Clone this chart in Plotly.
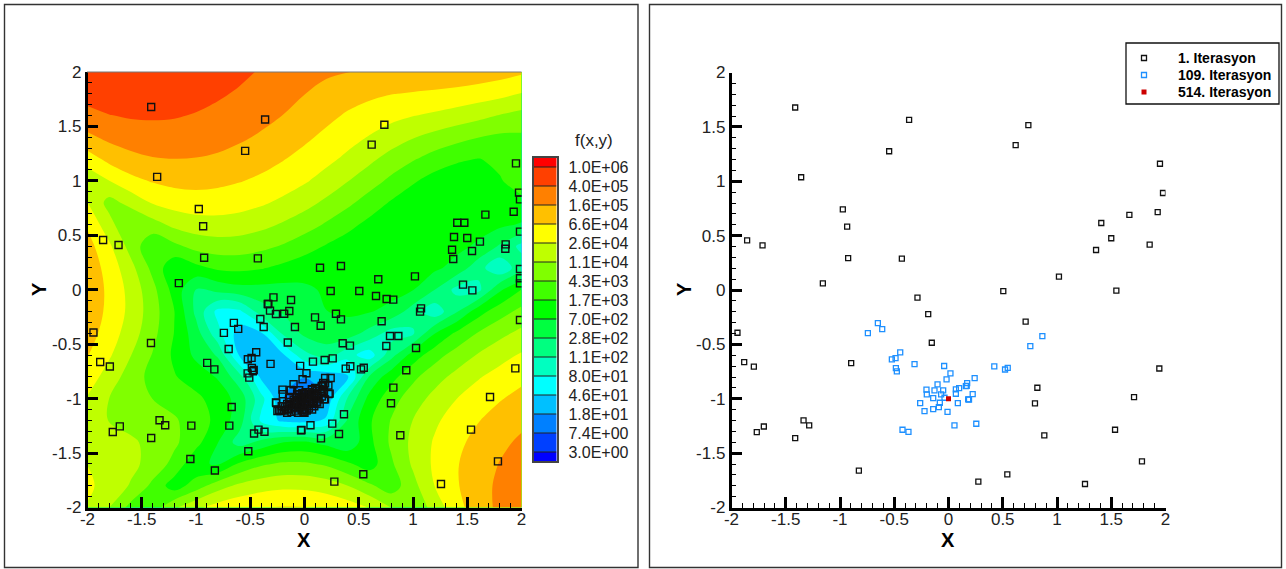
import numpy as np
import plotly.graph_objects as go

W, H = 1286, 569

x_grid = [-2.0,-1.8,-1.6,-1.4,-1.2,-1.0,-0.8,-0.6,-0.4,-0.2,0.0,0.2,0.4,0.6,0.8,1.0,1.2,1.4,1.6,1.8,2.0]
y_grid = [2.0,1.8,1.6,1.4,1.2,1.0,0.8,0.6,0.4,0.2,0.0,-0.2,-0.4,-0.6,-0.8,-1.0,-1.2,-1.4,-1.6,-1.8,-2.0]

# log10 f(x,y), one row per y_grid entry, read against the colour bar
log10_f = [
 [5.98,6.01,6.00,5.97,5.92,5.86,5.77,5.68,5.57,5.46,5.35,5.26,5.21,5.16,5.15,5.13,5.12,5.09,5.05,4.98,4.88],
 [5.76,5.82,5.84,5.82,5.79,5.73,5.65,5.56,5.45,5.33,5.21,5.09,4.98,4.90,4.83,4.79,4.75,4.70,4.62,4.53,4.40],
 [5.48,5.59,5.64,5.65,5.63,5.58,5.51,5.42,5.31,5.20,5.06,4.92,4.77,4.64,4.53,4.43,4.35,4.25,4.15,4.02,3.91],
 [5.12,5.30,5.40,5.43,5.44,5.40,5.34,5.26,5.16,5.03,4.89,4.73,4.56,4.39,4.22,4.06,3.91,3.77,3.64,3.55,3.56],
 [4.62,4.93,5.09,5.18,5.20,5.19,5.15,5.07,4.97,4.84,4.69,4.52,4.33,4.12,3.89,3.67,3.46,3.29,3.22,3.29,3.44],
 [4.13,4.41,4.70,4.85,4.93,4.94,4.91,4.84,4.74,4.61,4.46,4.27,4.05,3.81,3.54,3.28,3.07,3.00,3.07,3.21,3.35],
 [4.42,3.90,4.16,4.45,4.58,4.64,4.62,4.57,4.47,4.34,4.17,3.96,3.72,3.45,3.19,2.99,2.93,2.96,3.05,3.12,3.17],
 [4.76,4.17,3.64,3.88,4.14,4.25,4.28,4.24,4.15,4.00,3.82,3.59,3.35,3.12,2.99,2.97,2.98,2.99,2.98,2.93,2.81],
 [4.97,4.49,3.88,3.32,3.54,3.77,3.85,3.84,3.74,3.60,3.40,3.20,3.04,3.00,3.01,3.04,3.02,2.94,2.79,2.40,2.00],
 [5.07,4.66,4.16,3.52,2.94,3.12,3.30,3.33,3.26,3.13,3.00,2.94,2.98,3.03,3.06,3.03,2.92,2.71,2.20,1.93,2.30],
 [5.10,4.73,4.29,3.76,3.08,2.44,2.57,2.70,2.71,2.71,2.78,2.89,2.99,3.03,2.99,2.86,2.45,2.00,2.00,2.78,3.24],
 [5.07,4.72,4.31,3.82,3.24,2.35,1.83,1.85,2.24,2.49,2.70,2.84,2.91,2.87,2.72,2.25,1.95,2.40,3.07,3.46,3.75],
 [4.99,4.63,4.22,3.76,3.22,2.62,1.95,1.48,1.62,2.10,2.54,2.66,2.64,2.30,1.98,2.02,2.83,3.31,3.66,3.93,4.14],
 [4.84,4.47,4.05,3.61,3.16,2.76,2.40,1.62,1.54,1.60,2.00,2.23,1.95,1.78,2.30,3.02,3.47,3.80,4.07,4.28,4.46],
 [4.64,4.24,3.85,3.50,3.26,3.05,2.81,2.20,1.58,1.34,1.30,1.38,1.60,2.50,3.09,3.54,3.88,4.15,4.38,4.57,4.72],
 [4.38,4.04,3.78,3.63,3.49,3.32,3.07,2.69,1.95,1.30,0.48,1.36,2.10,2.98,3.47,3.85,4.16,4.41,4.62,4.79,4.94],
 [4.19,4.03,3.93,3.83,3.68,3.45,3.12,2.63,1.85,1.57,1.50,1.70,2.51,3.18,3.66,4.05,4.35,4.60,4.80,4.98,5.12],
 [4.26,4.18,4.09,3.95,3.71,3.37,2.85,2.26,2.55,2.84,2.89,2.71,2.55,3.13,3.71,4.13,4.46,4.72,4.94,5.12,5.27],
 [4.41,4.31,4.14,3.89,3.51,2.92,2.80,3.29,3.57,3.70,3.70,3.57,3.29,3.05,3.57,4.10,4.49,4.79,5.02,5.22,5.38],
 [4.48,4.29,4.00,3.54,3.03,3.43,3.86,4.12,4.26,4.33,4.32,4.23,4.04,3.70,3.42,3.91,4.42,4.78,5.06,5.28,5.46],
 [4.39,4.04,3.50,3.43,3.98,4.34,4.58,4.72,4.80,4.84,4.83,4.76,4.62,4.40,4.03,3.72,4.19,4.68,5.03,5.29,5.50],
]

level_values = [3.0,7.4,18,46,80,110,280,700,1700,4300,11000,26000,66000,160000,400000,1000000]
level_labels = ["3.0E+00","7.4E+00","1.8E+01","4.6E+01","8.0E+01","1.1E+02","2.8E+02","7.0E+02",
                "1.7E+03","4.3E+03","1.1E+04","2.6E+04","6.6E+04","1.6E+05","4.0E+05","1.0E+06"]
band_colors = ["#0000ff","#0040ff","#0080ff","#00c0ff","#00ffff","#00ffc0","#00ff80","#00ff40","#00ff00",
               "#40ff00","#80ff00","#bfff00","#ffff00","#ffc000","#ff8000","#ff4000","#ff0000"]

tick_vals = [-2,-1.5,-1,-0.5,0,0.5,1,1.5,2]
tick_text = ["-2","-1.5","-1","-0.5","0","0.5","1","1.5","2"]

legend_names = ["1. Iterasyon", "109. Iterasyon", "514. Iterasyon"]

iter1_x = [-1.413,-0.363,-0.547,-1.358,-0.974,-0.934,-1.856,-1.714,-0.925,-0.43,-1.158,-0.286,0.736,0.619,1.949,1.977,1.928,1.667,1.408,1.5,1.854,1.36,1.018,0.505,1.547,-0.187,-0.154,-1.945,-1.883,-1.794,-0.897,-1.336,-1.284,-1.702,-1.767,-1.413,-0.826,0.711,0.819,0.797,0.883,1.943,1.71,1.535,1.783,0.542,0.275,1.258]
iter1_y = [1.678,1.564,1.276,1.037,0.742,0.583,0.457,0.411,0.294,0.288,0.061,-0.07,1.516,1.333,1.161,0.892,0.717,0.69,0.616,0.476,0.417,0.368,0.123,-0.011,-0.006,-0.221,-0.485,-0.393,-0.663,-0.705,-0.672,-1.199,-1.245,-1.255,-1.307,-1.362,-1.66,-0.29,-0.899,-1.043,-1.337,-0.722,-0.985,-1.285,-1.576,-1.695,-1.762,-1.784]

iter109_x = [-0.651,-0.611,-0.743,-0.445,-0.488,-0.522,-0.313,-0.485,-0.476,-0.04,0.018,-0.018,-0.101,-0.203,-0.2,-0.129,-0.049,-0.068,-0.141,-0.037,0.068,0.068,0.098,0.16,0.172,0.181,-0.261,-0.08,-0.089,-0.141,-0.221,-0.009,0.086,0.055,-0.424,-0.369,0.865,0.754,0.422,0.546,0.521,0.241,0.168,0.223,0.189,0.256]
iter109_y = [-0.304,-0.359,-0.396,-0.574,-0.626,-0.638,-0.681,-0.718,-0.748,-0.699,-0.767,-0.822,-0.868,-0.917,-0.96,-0.923,-0.923,-0.96,-0.994,-0.991,-0.914,-0.954,-0.902,-0.883,-0.856,-1.006,-1.04,-1.037,-1.077,-1.095,-1.113,-1.12,-1.04,-1.245,-1.285,-1.304,-0.425,-0.517,-0.703,-0.716,-0.731,-0.81,-0.881,-0.957,-1.007,-1.23]

iter514_x = [0.0]
iter514_y = [-1.0]

other_x = [1.986,1.473,1.986,1.378,1.617,1.851,1.544,1.371,0.143,0.336,0.68,1.986,1.986,1.986,0.241,0.659,0.757,0.818,1.461,1.074,1.065,0.097,0.149,0.29,0.336,0.788,1.028,0.352,0.419,1.986,0.078,0.186,0.26,0.38,0.938,0.364,0.318,0.152,-0.028,0.232,-1.415,-0.831,-0.088,-0.407,-0.376,-0.339,-0.318,-0.263,-0.14,-0.699,-0.468,-0.524,-0.509,-0.263,-0.25,-0.671,-0.693,-1.043,-1.052,-0.518,-0.465,-0.032,-0.124,-0.333,-0.235,-0.205,0.19,0.174,0.118,0.02,-0.026,-0.127,
 -0.18,-0.16,-0.15,-0.14,-0.13,-0.12,-0.11,-0.1,-0.1,-0.09,-0.08,-0.08,-0.07,-0.06,-0.05,-0.05,-0.04,-0.03,-0.03,-0.02,-0.02,-0.01,-0.01,0.0,0.0,0.01,0.01,0.02,0.02,0.03,0.04,0.04,0.05,0.05,0.06,0.07,0.07,0.08,0.09,0.09,0.1,0.11,0.11,0.12,0.13,0.14,0.15,0.16,0.16,0.18,-0.21,-0.19,-0.16,-0.12,-0.06,0.0,0.07,0.14,0.19,0.22]
other_y = [0.83,0.616,0.534,0.484,0.442,0.376,0.356,0.282,0.202,0.218,0.096,0.19,0.105,0.059,-0.011,-0.057,-0.085,-0.091,0.047,-0.171,-0.201,-0.254,-0.33,-0.22,-0.272,-0.425,-0.535,-0.492,-0.513,-0.278,-0.66,-0.645,-0.63,-0.724,-0.74,-1.144,-1.325,-1.365,-1.288,-0.954,-0.489,-0.731,-0.342,-0.269,-0.342,-0.131,-0.192,-0.223,-0.195,-0.544,-0.737,-0.768,-0.807,-1.034,-1.113,-1.077,-1.248,-1.248,-1.554,-1.484,-1.321,-1.291,-0.094,-0.131,-1.105,-1.105,-0.81,-0.875,-1.037,-1.11,-1.105,-0.92,
 -1.08,-1.05,-1.1,-1.07,-1.03,-1.09,-1.05,-1.01,-1.08,-1.04,-1.11,-0.99,-1.06,-1.02,-1.09,-0.97,-1.04,-1.0,-1.07,-0.95,-1.03,-0.98,-1.1,-1.05,-0.96,-1.02,-0.94,-1.07,-0.99,-0.96,-1.03,-1.09,-0.94,-1.0,-1.05,-0.97,-0.92,-1.02,-0.95,-1.07,-0.99,-0.93,-1.03,-0.96,-1.0,-0.91,-0.95,-0.98,-0.89,-0.93,-1.07,-1.11,-1.13,-1.12,-1.13,-1.13,-1.1,-1.05,-0.86,-0.88]

FONT = "Liberation Sans, Arial, sans-serif"


def px(v):
    return v / W


def py(v):
    return 1 - v / H


n = len(level_values)
level_pos = np.interp(np.array(log10_f), np.log10(level_values), np.arange(n))
scale = [[k / (len(band_colors) - 1), c] for k, c in enumerate(band_colors)]

fig = go.Figure()
fig.add_trace(go.Contour(
    x=x_grid, y=y_grid, z=level_pos, xaxis="x", yaxis="y",
    colorscale=scale, showscale=False,
    contours=dict(start=0, end=n - 1, size=1, coloring="fill", showlines=False),
    line=dict(width=0, smoothing=1.0), hoverinfo="skip",
))

left_x = iter1_x + iter109_x + other_x + iter514_x
left_y = iter1_y + iter109_y + other_y + iter514_y
fig.add_trace(go.Scatter(
    x=left_x, y=left_y, mode="markers", xaxis="x", yaxis="y", showlegend=False,
    marker=dict(symbol="square-open", size=7, color="#111111", line=dict(width=1.4, color="#111111")),
))

black_mk = dict(symbol="square-open", size=5, color="#111111", line=dict(width=1.3, color="#111111"))
blue_mk = dict(symbol="square-open", size=5, color="#1e90ff", line=dict(width=1.3, color="#1e90ff"))
red_mk = dict(symbol="square", size=5, color="#cc0000", line=dict(width=0))

for xs, ys, name, mk in [(iter1_x, iter1_y, legend_names[0], black_mk),
                         (iter109_x, iter109_y, legend_names[1], blue_mk),
                         (iter514_x, iter514_y, legend_names[2], red_mk)]:
    fig.add_trace(go.Scatter(x=xs, y=ys, mode="markers", xaxis="x2", yaxis="y2",
                             name=name, marker=mk, showlegend=False))

# legend keys, on an invisible axis laid over the legend box
legend_rows = [0, 1, 2]
for row, name, mk in zip(legend_rows, legend_names, [black_mk, blue_mk, red_mk]):
    fig.add_trace(go.Scatter(x=[0], y=[row], mode="markers", xaxis="x4", yaxis="y4",
                             name=name, marker=mk, showlegend=False, hoverinfo="skip"))

# colour bar, one cell per band
bar_edges = [-0.475] + list(range(n)) + [n - 1 + 0.475]
fig.add_trace(go.Heatmap(
    x=[0, 1], y=bar_edges, z=[[k] for k in range(len(band_colors))],
    zmin=0, zmax=len(band_colors) - 1, colorscale=scale, showscale=False,
    xaxis="x3", yaxis="y3", hoverinfo="skip",
))
sep_x, sep_y = [], []
for i in range(n):
    sep_x += [0, 1, None]
    sep_y += [i, i, None]
fig.add_trace(go.Scatter(
    x=sep_x, y=sep_y, mode="lines", xaxis="x3", yaxis="y3", showlegend=False,
    line=dict(color="#222222", width=1.2), hoverinfo="skip",
))


def axis(dom, anchor, standoff=0):
    return dict(
        domain=dom, anchor=anchor, range=[-2, 2], showgrid=False, zeroline=False,
        showline=True, linecolor="#000000", linewidth=2.5,
        tickmode="array", tickvals=tick_vals, ticktext=tick_text,
        ticks="inside", ticklen=11, tickwidth=2.5, tickcolor="#000000", ticklabelstandoff=standoff,
        tickfont=dict(family=FONT, size=17, color="#222222"),
        minor=dict(ticks="inside", ticklen=5, tickwidth=1.3, tickcolor="#000000", dtick=0.1, tick0=-2, showgrid=False),
    )


hidden = dict(showgrid=False, zeroline=False, showline=False, showticklabels=False, ticks="")

shapes = [
    dict(type="rect", xref="paper", yref="paper", x0=px(4.5), x1=px(638), y0=py(567.5), y1=py(4.5),
         line=dict(color="#333333", width=1.4), layer="below"),
    dict(type="rect", xref="paper", yref="paper", x0=px(649.5), x1=px(1281.5), y0=py(567.5), y1=py(4.5),
         line=dict(color="#333333", width=1.4), layer="below"),
    dict(type="line", xref="paper", yref="paper", x0=px(87), x1=px(521.5), y0=py(72), y1=py(72),
         line=dict(color="#777777", width=1)),
    dict(type="rect", xref="paper", yref="paper", x0=px(1126), x1=px(1279), y0=py(104), y1=py(43),
         line=dict(color="#111111", width=1.3), layer="below"),
]

title_font = dict(family=FONT, size=20, color="#000000")


def note(text, x, y, font, **kw):
    return dict(text=text, xref="paper", yref="paper", x=px(x), y=py(y), showarrow=False,
                xanchor=kw.pop("xanchor", "center"), yanchor="middle", font=font, **kw)


legend_font = dict(family=FONT, size=14, color="#000000")
annotations = [
    note("<b>X</b>", 304, 539.5, title_font),
    note("<b>Y</b>", 39, 289, title_font, textangle=-90),
    note("<b>X</b>", 948, 539.5, title_font),
    note("<b>Y</b>", 684, 289, title_font, textangle=-90),
    note("f(x,y)", 594, 140, dict(family=FONT, size=17, color="#222222")),
    note("<b>" + legend_names[0] + "</b>", 1176, 58.5, legend_font, xanchor="left"),
    note("<b>" + legend_names[1] + "</b>", 1176, 75, legend_font, xanchor="left"),
    note("<b>" + legend_names[2] + "</b>", 1176, 92, legend_font, xanchor="left"),
]

fig.update_layout(
    width=W, height=H, autosize=False, margin=dict(l=0, r=0, t=0, b=0, autoexpand=False),
    paper_bgcolor="#ffffff", plot_bgcolor="#ffffff",
    xaxis=axis([px(87.5), px(521.5)], "y", -6),
    yaxis=axis([py(507.5), py(72)], "x"),
    xaxis2=axis([px(731.5), px(1165.5)], "y2", -6),
    yaxis2=axis([py(507.5), py(72.5)], "x2"),
    xaxis3=dict(domain=[px(534), px(556.5)], anchor="y3", range=[0, 1], showticklabels=False, ticks="",
                showgrid=False, zeroline=False, showline=True, linecolor="#444444", linewidth=1.5, mirror=True),
    yaxis3=dict(domain=[py(461), py(158)], anchor="x3", side="right", range=[-0.475, n - 1 + 0.475],
                tickmode="array", tickvals=list(range(n)), ticktext=level_labels, ticks="",
                tickfont=dict(family=FONT, size=16, color="#222222"), ticklabelstandoff=7,
                showgrid=False, zeroline=False, showline=True, linecolor="#444444", linewidth=1.5, mirror=True),
    xaxis4=dict(hidden, domain=[px(1139), px(1149)], anchor="y4", range=[-1, 1]),
    yaxis4=dict(hidden, domain=[py(100.5), py(49.5)], anchor="x4", range=[2.5, -0.5]),
    shapes=shapes, annotations=annotations, showlegend=False,
)

fig.write_html("out.html", config={"displayModeBar": False},
               post_script="document.body.style.margin='0';")
